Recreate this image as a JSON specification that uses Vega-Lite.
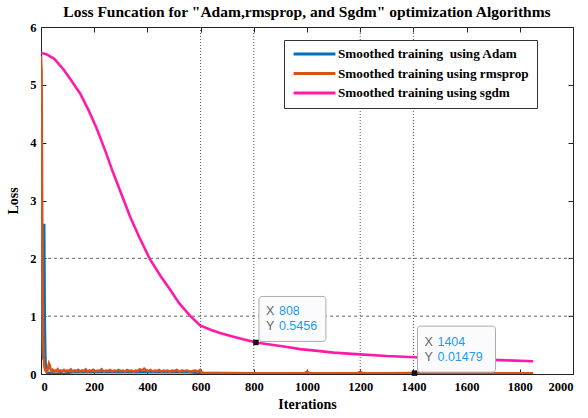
{
  "$schema": "https://vega.github.io/schema/vega-lite/v6.json",
  "width": 532,
  "height": 347,
  "autosize": {"type": "none"},
  "padding": {"left": 41, "top": 27, "right": 15, "bottom": 44},
  "background": "white",
  "title": {"text": "Loss Funcation for \"Adam,rmsprop, and Sgdm\" optimization Algorithms", "font": "Liberation Serif", "fontSize": 15.5, "fontWeight": "bold", "color": "black", "offset": 1, "anchor": "middle"},
  "config": {
    "view": {"stroke": "#222", "strokeWidth": 1},
    "axis": {"labelFont": "Liberation Serif", "labelFontWeight": "bold", "labelFontSize": 12.5, "labelColor": "black", "titleFont": "Liberation Serif", "titleFontWeight": "bold", "titleFontSize": 14, "titleColor": "black", "domain": false, "tickColor": "#222", "tickSize": -5, "grid": false, "labelPadding": 10, "format": "d"}
  },
  "datasets": {
    "hgrid": [{"g": 1}, {"g": 2}],
    "vgrid": [{"v": 600}, {"v": 800}, {"v": 1200}, {"v": 1400}],
    "tips": [{"tx": 808, "ty": 0.5456, "xs": "808", "ys": "0.5456", "id": 1}, {"tx": 1404, "ty": 0.01479, "xs": "1404", "ys": "0.01479", "id": 2}],
    "loss": [
      {"it": 0, "loss": 5.3, "s": "Adam"}, {"it": 2, "loss": 3.0, "s": "Adam"}, {"it": 4, "loss": 1.0, "s": "Adam"}, {"it": 6, "loss": 0.4, "s": "Adam"}, {"it": 8, "loss": 0.25, "s": "Adam"}, {"it": 10, "loss": 1.2, "s": "Adam"}, {"it": 12, "loss": 2.6, "s": "Adam"}, {"it": 14, "loss": 1.0, "s": "Adam"}, {"it": 16, "loss": 0.35, "s": "Adam"}, {"it": 18, "loss": 0.12, "s": "Adam"}, {"it": 21, "loss": 0.04, "s": "Adam"}, {"it": 25, "loss": 0.0, "s": "Adam"}, {"it": 30, "loss": 0.02, "s": "Adam"}, {"it": 35, "loss": 0.0, "s": "Adam"}, {"it": 42, "loss": 0.03, "s": "Adam"}, {"it": 50, "loss": 0.01, "s": "Adam"}, {"it": 60, "loss": 0.0, "s": "Adam"}, {"it": 70, "loss": 0.02, "s": "Adam"}, {"it": 80, "loss": 0.01, "s": "Adam"}, {"it": 90, "loss": 0.0, "s": "Adam"}, {"it": 100, "loss": 0.02, "s": "Adam"}, {"it": 120, "loss": 0.03, "s": "Adam"}, {"it": 140, "loss": 0.03, "s": "Adam"}, {"it": 160, "loss": 0.035, "s": "Adam"}, {"it": 180, "loss": 0.03, "s": "Adam"}, {"it": 200, "loss": 0.035, "s": "Adam"}, {"it": 250, "loss": 0.03, "s": "Adam"}, {"it": 300, "loss": 0.035, "s": "Adam"}, {"it": 350, "loss": 0.03, "s": "Adam"}, {"it": 400, "loss": 0.035, "s": "Adam"}, {"it": 450, "loss": 0.03, "s": "Adam"}, {"it": 500, "loss": 0.035, "s": "Adam"}, {"it": 550, "loss": 0.03, "s": "Adam"}, {"it": 600, "loss": 0.02, "s": "Adam"}, {"it": 700, "loss": 0.012, "s": "Adam"}, {"it": 900, "loss": 0.012, "s": "Adam"}, {"it": 1200, "loss": 0.012, "s": "Adam"}, {"it": 1500, "loss": 0.012, "s": "Adam"}, {"it": 1850, "loss": 0.012, "s": "Adam"},
      {"it": 0, "loss": 5.5, "s": "rmsprop"}, {"it": 2, "loss": 5.2, "s": "rmsprop"}, {"it": 4, "loss": 3.2, "s": "rmsprop"}, {"it": 6, "loss": 1.4, "s": "rmsprop"}, {"it": 8, "loss": 0.6, "s": "rmsprop"}, {"it": 10, "loss": 0.3, "s": "rmsprop"}, {"it": 12, "loss": 0.15, "s": "rmsprop"}, {"it": 15, "loss": 0.08, "s": "rmsprop"}, {"it": 18, "loss": 0.05, "s": "rmsprop"}, {"it": 21, "loss": 0.04, "s": "rmsprop"}, {"it": 24, "loss": 0.06, "s": "rmsprop"}, {"it": 27, "loss": 0.12, "s": "rmsprop"}, {"it": 30, "loss": 0.18, "s": "rmsprop"}, {"it": 33, "loss": 0.15, "s": "rmsprop"}, {"it": 36, "loss": 0.08, "s": "rmsprop"}, {"it": 40, "loss": 0.05, "s": "rmsprop"}, {"it": 44, "loss": 0.07, "s": "rmsprop"}, {"it": 48, "loss": 0.04, "s": "rmsprop"}, {"it": 53, "loss": 0.06, "s": "rmsprop"}, {"it": 58, "loss": 0.05, "s": "rmsprop"}, {"it": 63, "loss": 0.08, "s": "rmsprop"}, {"it": 68, "loss": 0.04, "s": "rmsprop"}, {"it": 74, "loss": 0.06, "s": "rmsprop"}, {"it": 80, "loss": 0.05, "s": "rmsprop"}, {"it": 86, "loss": 0.07, "s": "rmsprop"}, {"it": 92, "loss": 0.04, "s": "rmsprop"}, {"it": 98, "loss": 0.06, "s": "rmsprop"}, {"it": 105, "loss": 0.05, "s": "rmsprop"}, {"it": 112, "loss": 0.08, "s": "rmsprop"}, {"it": 119, "loss": 0.04, "s": "rmsprop"}, {"it": 126, "loss": 0.06, "s": "rmsprop"}, {"it": 133, "loss": 0.05, "s": "rmsprop"}, {"it": 140, "loss": 0.07, "s": "rmsprop"}, {"it": 147, "loss": 0.04, "s": "rmsprop"}, {"it": 154, "loss": 0.06, "s": "rmsprop"}, {"it": 161, "loss": 0.05, "s": "rmsprop"}, {"it": 168, "loss": 0.08, "s": "rmsprop"}, {"it": 175, "loss": 0.04, "s": "rmsprop"}, {"it": 182, "loss": 0.06, "s": "rmsprop"}, {"it": 189, "loss": 0.05, "s": "rmsprop"}, {"it": 196, "loss": 0.07, "s": "rmsprop"}, {"it": 204, "loss": 0.04, "s": "rmsprop"}, {"it": 212, "loss": 0.06, "s": "rmsprop"}, {"it": 220, "loss": 0.05, "s": "rmsprop"}, {"it": 228, "loss": 0.08, "s": "rmsprop"}, {"it": 236, "loss": 0.04, "s": "rmsprop"}, {"it": 244, "loss": 0.06, "s": "rmsprop"}, {"it": 252, "loss": 0.05, "s": "rmsprop"}, {"it": 260, "loss": 0.07, "s": "rmsprop"}, {"it": 268, "loss": 0.04, "s": "rmsprop"}, {"it": 276, "loss": 0.06, "s": "rmsprop"}, {"it": 284, "loss": 0.05, "s": "rmsprop"}, {"it": 292, "loss": 0.07, "s": "rmsprop"}, {"it": 300, "loss": 0.05, "s": "rmsprop"}, {"it": 308, "loss": 0.06, "s": "rmsprop"}, {"it": 316, "loss": 0.04, "s": "rmsprop"}, {"it": 324, "loss": 0.07, "s": "rmsprop"}, {"it": 332, "loss": 0.05, "s": "rmsprop"}, {"it": 340, "loss": 0.06, "s": "rmsprop"}, {"it": 348, "loss": 0.04, "s": "rmsprop"}, {"it": 356, "loss": 0.06, "s": "rmsprop"}, {"it": 364, "loss": 0.05, "s": "rmsprop"}, {"it": 372, "loss": 0.08, "s": "rmsprop"}, {"it": 380, "loss": 0.06, "s": "rmsprop"}, {"it": 388, "loss": 0.09, "s": "rmsprop"}, {"it": 396, "loss": 0.06, "s": "rmsprop"}, {"it": 404, "loss": 0.05, "s": "rmsprop"}, {"it": 412, "loss": 0.07, "s": "rmsprop"}, {"it": 420, "loss": 0.04, "s": "rmsprop"}, {"it": 428, "loss": 0.06, "s": "rmsprop"}, {"it": 436, "loss": 0.05, "s": "rmsprop"}, {"it": 444, "loss": 0.07, "s": "rmsprop"}, {"it": 452, "loss": 0.04, "s": "rmsprop"}, {"it": 460, "loss": 0.06, "s": "rmsprop"}, {"it": 468, "loss": 0.05, "s": "rmsprop"}, {"it": 476, "loss": 0.06, "s": "rmsprop"}, {"it": 484, "loss": 0.04, "s": "rmsprop"}, {"it": 492, "loss": 0.06, "s": "rmsprop"}, {"it": 500, "loss": 0.05, "s": "rmsprop"}, {"it": 510, "loss": 0.07, "s": "rmsprop"}, {"it": 520, "loss": 0.04, "s": "rmsprop"}, {"it": 530, "loss": 0.06, "s": "rmsprop"}, {"it": 540, "loss": 0.05, "s": "rmsprop"}, {"it": 550, "loss": 0.06, "s": "rmsprop"}, {"it": 560, "loss": 0.04, "s": "rmsprop"}, {"it": 570, "loss": 0.05, "s": "rmsprop"}, {"it": 580, "loss": 0.06, "s": "rmsprop"}, {"it": 590, "loss": 0.04, "s": "rmsprop"}, {"it": 598, "loss": 0.07, "s": "rmsprop"}, {"it": 604, "loss": 0.02, "s": "rmsprop"}, {"it": 620, "loss": 0.012, "s": "rmsprop"}, {"it": 700, "loss": 0.015, "s": "rmsprop"}, {"it": 800, "loss": 0.012, "s": "rmsprop"}, {"it": 900, "loss": 0.014, "s": "rmsprop"}, {"it": 990, "loss": 0.012, "s": "rmsprop"}, {"it": 1000, "loss": 0.04, "s": "rmsprop"}, {"it": 1010, "loss": 0.013, "s": "rmsprop"}, {"it": 1100, "loss": 0.012, "s": "rmsprop"}, {"it": 1190, "loss": 0.014, "s": "rmsprop"}, {"it": 1200, "loss": 0.035, "s": "rmsprop"}, {"it": 1210, "loss": 0.013, "s": "rmsprop"}, {"it": 1300, "loss": 0.012, "s": "rmsprop"}, {"it": 1404, "loss": 0.01479, "s": "rmsprop"}, {"it": 1500, "loss": 0.012, "s": "rmsprop"}, {"it": 1600, "loss": 0.013, "s": "rmsprop"}, {"it": 1700, "loss": 0.012, "s": "rmsprop"}, {"it": 1800, "loss": 0.013, "s": "rmsprop"}, {"it": 1850, "loss": 0.012, "s": "rmsprop"},
      {"it": 0, "loss": 5.55, "s": "sgdm"}, {"it": 20, "loss": 5.53, "s": "sgdm"}, {"it": 50, "loss": 5.45, "s": "sgdm"}, {"it": 84, "loss": 5.27, "s": "sgdm"}, {"it": 110, "loss": 5.1, "s": "sgdm"}, {"it": 147, "loss": 4.85, "s": "sgdm"}, {"it": 180, "loss": 4.55, "s": "sgdm"}, {"it": 209, "loss": 4.25, "s": "sgdm"}, {"it": 240, "loss": 3.88, "s": "sgdm"}, {"it": 272, "loss": 3.47, "s": "sgdm"}, {"it": 300, "loss": 3.14, "s": "sgdm"}, {"it": 335, "loss": 2.72, "s": "sgdm"}, {"it": 370, "loss": 2.36, "s": "sgdm"}, {"it": 410, "loss": 1.98, "s": "sgdm"}, {"it": 450, "loss": 1.69, "s": "sgdm"}, {"it": 485, "loss": 1.46, "s": "sgdm"}, {"it": 520, "loss": 1.22, "s": "sgdm"}, {"it": 560, "loss": 1.01, "s": "sgdm"}, {"it": 598, "loss": 0.84, "s": "sgdm"}, {"it": 640, "loss": 0.76, "s": "sgdm"}, {"it": 673, "loss": 0.71, "s": "sgdm"}, {"it": 720, "loss": 0.65, "s": "sgdm"}, {"it": 760, "loss": 0.6, "s": "sgdm"}, {"it": 808, "loss": 0.5456, "s": "sgdm"}, {"it": 860, "loss": 0.51, "s": "sgdm"}, {"it": 920, "loss": 0.47, "s": "sgdm"}, {"it": 974, "loss": 0.43, "s": "sgdm"}, {"it": 1040, "loss": 0.4, "s": "sgdm"}, {"it": 1100, "loss": 0.37, "s": "sgdm"}, {"it": 1199, "loss": 0.34, "s": "sgdm"}, {"it": 1300, "loss": 0.31, "s": "sgdm"}, {"it": 1406, "loss": 0.29, "s": "sgdm"}, {"it": 1500, "loss": 0.27, "s": "sgdm"}, {"it": 1600, "loss": 0.26, "s": "sgdm"}, {"it": 1726, "loss": 0.24, "s": "sgdm"}, {"it": 1850, "loss": 0.22, "s": "sgdm"}
    ]
  },
  "resolve": {"axis": {"x": "independent", "y": "independent"}},
  "layer": [
    {
      "data": {"name": "hgrid"},
      "mark": {"type": "rule", "color": "#666", "strokeWidth": 1, "strokeDash": [3, 3]},
      "encoding": {
        "y": {"field": "g", "type": "quantitative", "scale": {"domain": [0, 6]}, "axis": {"orient": "left", "values": [0, 1, 2, 3, 4, 5, 6], "title": "Loss", "titlePadding": 9}}
      }
    },
    {
      "data": {"name": "vgrid"},
      "mark": {"type": "rule", "color": "#555", "strokeWidth": 1, "strokeDash": [1, 2]},
      "encoding": {
        "x": {"field": "v", "type": "quantitative", "scale": {"domain": [0, 2000]}, "axis": {"orient": "bottom", "values": [0, 200, 400, 600, 800, 1000, 1200, 1400, 1600, 1800, 2000], "title": "Iterations", "titlePadding": 5, "labelPadding": 11}}
      }
    },
    {
      "data": {"name": "loss"},
      "mark": {"type": "line", "strokeWidth": 2.6, "clip": true},
      "encoding": {
        "x": {"field": "it", "type": "quantitative", "scale": {"domain": [0, 2000]}, "axis": {"orient": "top", "values": [0, 200, 400, 600, 800, 1000, 1200, 1400, 1600, 1800, 2000], "labels": false, "title": null}},
        "y": {"field": "loss", "type": "quantitative", "scale": {"domain": [0, 6]}, "axis": {"orient": "right", "values": [0, 1, 2, 3, 4, 5, 6], "labels": false, "title": null}},
        "color": {
          "field": "s", "type": "nominal",
          "scale": {"domain": ["Adam", "rmsprop", "sgdm"], "range": ["#0072BD", "#D95319", "#FF1AA8"]},
          "legend": {
            "orient": "none", "legendX": 243, "legendY": 13, "title": null,
            "labelExpr": "datum.label == 'Adam' ? 'Smoothed training\u00a0 using Adam' : 'Smoothed training using ' + datum.label",
            "labelFont": "Liberation Serif", "labelFontWeight": "bold", "labelFontSize": 13.2, "labelColor": "black", "labelLimit": 400,
            "symbolType": "stroke", "symbolSize": 1750, "symbolStrokeWidth": 3, "clipHeight": 12, "rowPadding": 5.5, "labelOffset": 1,
            "strokeColor": "#333", "fillColor": "white", "padding": 8
          }
        }
      }
    },
    {
      "data": {"name": "tips"},
      "transform": [{"filter": "datum.id == 1"}],
      "mark": {"type": "rect", "fill": "#fbfbfe", "stroke": "#aaa", "strokeWidth": 1, "cornerRadius": 3, "xOffset": 3, "x2Offset": 70, "yOffset": -46, "y2Offset": -1},
      "encoding": {
        "x": {"field": "tx", "type": "quantitative", "scale": {"domain": [0, 2000]}, "axis": null},
        "x2": {"field": "tx"},
        "y": {"field": "ty", "type": "quantitative", "scale": {"domain": [0, 6]}, "axis": null},
        "y2": {"field": "ty"}
      }
    },
    {
      "data": {"name": "tips"},
      "transform": [{"filter": "datum.id == 2"}],
      "mark": {"type": "rect", "fill": "#fbfbfe", "stroke": "#aaa", "strokeWidth": 1, "cornerRadius": 3, "xOffset": 3, "x2Offset": 81, "yOffset": -47, "y2Offset": -1},
      "encoding": {
        "x": {"field": "tx", "type": "quantitative", "scale": {"domain": [0, 2000]}, "axis": null},
        "x2": {"field": "tx"},
        "y": {"field": "ty", "type": "quantitative", "scale": {"domain": [0, 6]}, "axis": null},
        "y2": {"field": "ty"}
      }
    },
    {
      "data": {"name": "tips"},
      "mark": {"type": "point", "shape": "square", "size": 30, "filled": true, "color": "#111", "opacity": 1},
      "encoding": {
        "x": {"field": "tx", "type": "quantitative", "scale": {"domain": [0, 2000]}, "axis": null},
        "y": {"field": "ty", "type": "quantitative", "scale": {"domain": [0, 6]}, "axis": null}
      }
    },
    {
      "data": {"name": "tips"},
      "mark": {"type": "text", "text": "X", "align": "left", "baseline": "middle", "dx": 10, "dy": -31, "font": "Liberation Sans", "fontSize": 12.5, "color": "#666"},
      "encoding": {
        "x": {"field": "tx", "type": "quantitative", "scale": {"domain": [0, 2000]}, "axis": null},
        "y": {"field": "ty", "type": "quantitative", "scale": {"domain": [0, 6]}, "axis": null}
      }
    },
    {
      "data": {"name": "tips"},
      "mark": {"type": "text", "text": "Y", "align": "left", "baseline": "middle", "dx": 10, "dy": -16, "font": "Liberation Sans", "fontSize": 12.5, "color": "#666"},
      "encoding": {
        "x": {"field": "tx", "type": "quantitative", "scale": {"domain": [0, 2000]}, "axis": null},
        "y": {"field": "ty", "type": "quantitative", "scale": {"domain": [0, 6]}, "axis": null}
      }
    },
    {
      "data": {"name": "tips"},
      "mark": {"type": "text", "align": "left", "baseline": "middle", "dx": 23, "dy": -31, "font": "Liberation Sans", "fontSize": 12.5, "color": "#1A9BF0"},
      "encoding": {
        "x": {"field": "tx", "type": "quantitative", "scale": {"domain": [0, 2000]}, "axis": null},
        "y": {"field": "ty", "type": "quantitative", "scale": {"domain": [0, 6]}, "axis": null},
        "text": {"field": "xs"}
      }
    },
    {
      "data": {"name": "tips"},
      "mark": {"type": "text", "align": "left", "baseline": "middle", "dx": 23, "dy": -16, "font": "Liberation Sans", "fontSize": 12.5, "color": "#1A9BF0"},
      "encoding": {
        "x": {"field": "tx", "type": "quantitative", "scale": {"domain": [0, 2000]}, "axis": null},
        "y": {"field": "ty", "type": "quantitative", "scale": {"domain": [0, 6]}, "axis": null},
        "text": {"field": "ys"}
      }
    }
  ]
}
